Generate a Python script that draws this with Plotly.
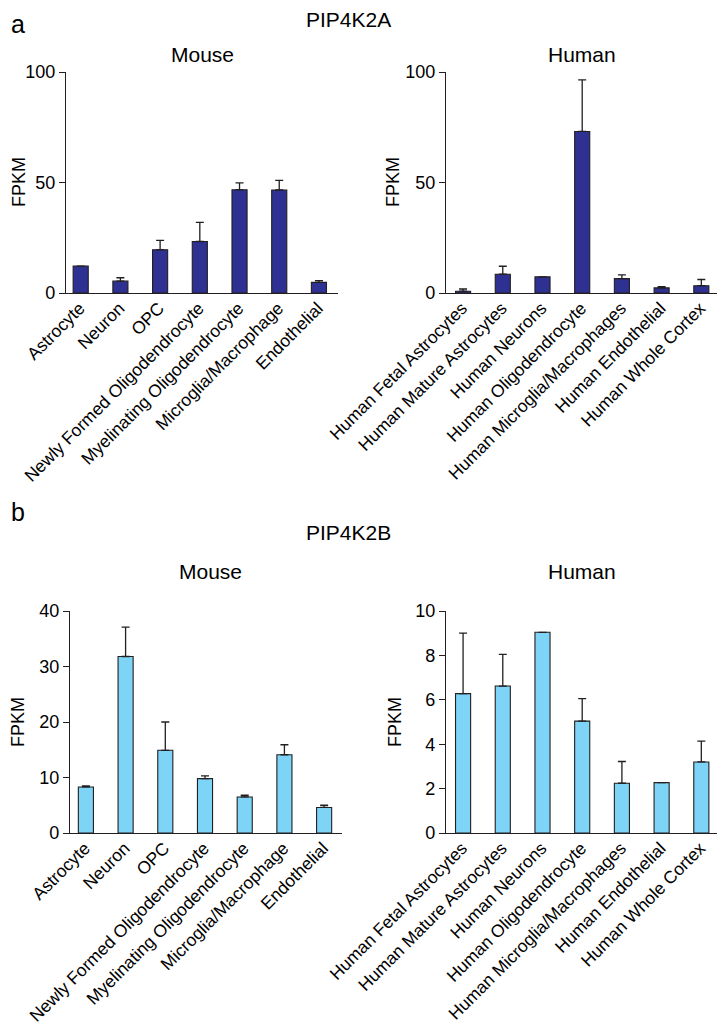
import plotly.graph_objects as go

# page body has an 8px default margin; size the figure to fit the 725x1029 window
OFF = 8
W, H = 725 - OFF, 1029 - OFF

mouse_cats = ["Astrocyte", "Neuron", "OPC", "Newly Formed Oligodendrocyte",
              "Myelinating Oligodendrocyte", "Microglia/Macrophage", "Endothelial"]
human_cats = ["Human Fetal Astrocytes", "Human Mature Astrocytes", "Human Neurons",
              "Human Oligodendrocyte", "Human Microglia/Macrophages", "Human Endothelial",
              "Human Whole Cortex"]

a_mouse_vals = [12.2, 5.4, 19.6, 23.3, 46.7, 46.6, 4.8]
a_mouse_err = [0.0, 1.5, 4.2, 8.7, 3.1, 4.4, 0.8]
a_human_vals = [0.8, 8.5, 7.3, 73.1, 6.5, 2.3, 3.3]
a_human_err = [1.0, 3.6, 0.0, 23.3, 1.7, 0.6, 2.8]

b_mouse_vals = [8.3, 31.8, 14.9, 9.8, 6.5, 14.1, 4.6]
b_mouse_err = [0.2, 5.3, 5.1, 0.5, 0.3, 1.8, 0.4]
b_human_vals = [6.28, 6.62, 9.04, 5.04, 2.24, 2.27, 3.2]
b_human_err = [2.72, 1.43, 0.0, 1.01, 0.98, 0.0, 0.94]

y_ticks_a = [0, 50, 100]
y_ticks_b_mouse = [0, 10, 20, 30, 40]
y_ticks_b_human = [0, 2, 4, 6, 8, 10]

NAVY = "#2E3192"
LIGHT = "#7DD4F7"
INK = "#231F20"
FONT = "Liberation Sans, Arial, sans-serif"


def px_x(x):
    return (x - OFF) / W


def px_y(y):
    return 1 - (y - OFF) / H


panels = [
    ("1", mouse_cats, a_mouse_vals, a_mouse_err, NAVY, (66, 338), (72, 293), [0, 100], y_ticks_a, [-0.37, 6.48]),
    ("2", human_cats, a_human_vals, a_human_err, NAVY, (446, 718), (72, 293), [0, 100], y_ticks_a, [-0.43, 6.42]),
    ("3", mouse_cats, b_mouse_vals, b_mouse_err, LIGHT, (70, 342), (611, 833), [0, 40], y_ticks_b_mouse, [-0.4, 6.45]),
    ("4", human_cats, b_human_vals, b_human_err, LIGHT, (446, 718), (611, 833), [0, 10], y_ticks_b_human, [-0.43, 6.42]),
]

fig = go.Figure()
layout = {}
for name, cats, vals, err, color, xd, yd, yr, ticks, xr in panels:
    xa = "x" if name == "1" else "x" + name
    ya = "y" if name == "1" else "y" + name
    fig.add_trace(go.Bar(
        x=list(range(len(cats))), y=vals, xaxis=xa, yaxis=ya,
        width=0.38,
        marker=dict(color=color, line=dict(color=INK, width=1.1)),
        error_y=dict(type="data", symmetric=False, array=err, arrayminus=[0] * len(err),
                     color=INK, thickness=1.3, width=4),
        showlegend=False,
    ))
    layout["xaxis" if name == "1" else "xaxis" + name] = dict(
        domain=[px_x(xd[0]), px_x(xd[1])], anchor=ya, range=xr, automargin=False,
        tickmode="array", tickvals=list(range(len(cats))), ticktext=cats,
        tickangle=-45, ticks="", showline=True, linecolor=INK, linewidth=1.2,
        showgrid=False, zeroline=False, ticklabelstandoff=-3, ticklabelshift=-1,
        tickfont=dict(family=FONT, size=17.5, color="#000"),
    )
    layout["yaxis" if name == "1" else "yaxis" + name] = dict(
        domain=[px_y(yd[1]), px_y(yd[0])], anchor=xa, range=yr, automargin=False,
        tickmode="array", tickvals=ticks, ticks="outside", ticklen=6, tickwidth=1.2,
        tickcolor=INK, showline=True, linecolor=INK, linewidth=1.2,
        showgrid=False, zeroline=False,
        tickfont=dict(family=FONT, size=18, color="#000"),
    )

annotations = []


def ann(text, x, y, size, angle=0, xanchor="center", yanchor="middle"):
    annotations.append(dict(text=text, x=px_x(x), y=px_y(y), xref="paper", yref="paper",
                            showarrow=False, textangle=angle, xanchor=xanchor, yanchor=yanchor,
                            font=dict(family=FONT, size=size, color="#000")))


ann("a", 9, 8, 25, xanchor="left", yanchor="top")
ann("PIP4K2A", 348, 19, 21)
ann("Mouse", 202, 54, 21)
ann("Human", 582, 54, 21)
ann("b", 9, 512, 25, xanchor="left")
ann("PIP4K2B", 348, 532, 21)
ann("Mouse", 210, 571, 21)
ann("Human", 582, 571, 21)
ann("FPKM", 19, 182, 18, angle=-90)
ann("FPKM", 393, 182, 18, angle=-90)
ann("FPKM", 18, 722, 18, angle=-90)
ann("FPKM", 395, 722, 18, angle=-90)

fig.update_layout(
    template="none",
    width=W, height=H, margin=dict(l=0, r=0, t=0, b=0, autoexpand=False),
    paper_bgcolor="white", plot_bgcolor="white",
    annotations=annotations, bargap=0.6,
    **layout,
)

fig.write_html("out.html")
